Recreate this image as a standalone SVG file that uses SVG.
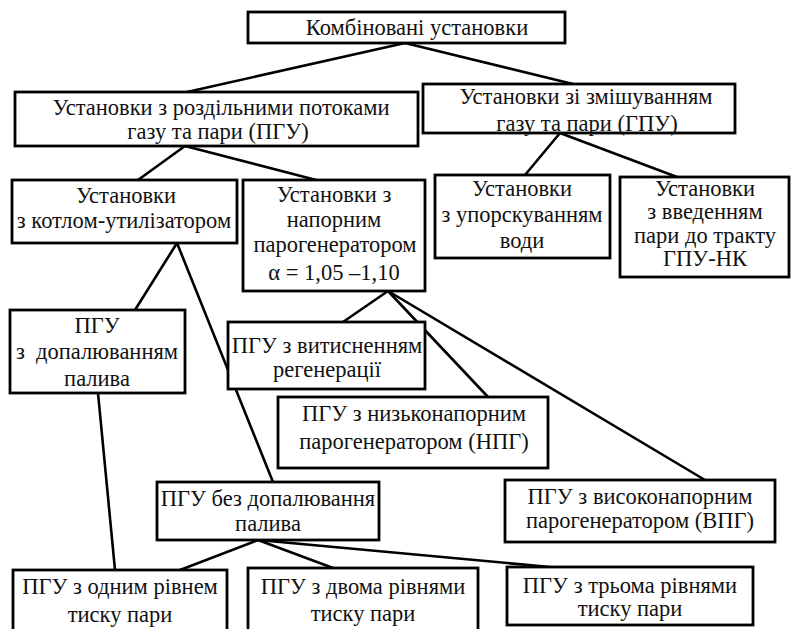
<svg xmlns="http://www.w3.org/2000/svg" width="792" height="629" viewBox="0 0 792 629">
<style>
.box{fill:#fff;stroke:#000;stroke-width:2.8}
.t{font-family:'Liberation Serif','Times New Roman','DejaVu Serif',serif;font-size:22.5px;fill:#111;text-anchor:middle}
.conn line{stroke:#000;stroke-width:2.6;stroke-linecap:round}
</style>
<rect width="792" height="629" fill="#fff"/>
<g id="connectors" class="conn">
<line x1="405" y1="43" x2="187" y2="92"/>
<line x1="405" y1="43" x2="573" y2="84"/>
<line x1="185" y1="146" x2="138" y2="180"/>
<line x1="185" y1="146" x2="320" y2="181"/>
<line x1="560" y1="133" x2="525" y2="175"/>
<line x1="560" y1="133" x2="677" y2="177"/>
<line x1="177" y1="243" x2="135" y2="310"/>
<line x1="177" y1="243" x2="273" y2="482"/>
<line x1="98" y1="393" x2="115" y2="570"/>
<line x1="388" y1="291" x2="343" y2="322"/>
<line x1="388" y1="291" x2="488" y2="397"/>
<line x1="388" y1="291" x2="705" y2="480"/>
<line x1="258" y1="540" x2="180" y2="570"/>
<line x1="258" y1="540" x2="333" y2="568"/>
<line x1="258" y1="540" x2="550" y2="567"/>
</g>
<g font-family="Liberation Serif, serif">
<g id="n-root"><rect class="box" x="248" y="12" width="317" height="31"/><text class="t" x="417" y="35">Комбіновані установки</text></g>
<g id="n-pgu"><rect class="box" x="15" y="92" width="403" height="54"/><text class="t" x="221" y="115">Установки з роздільними потоками</text><text class="t" x="218" y="139">газу та пари (ПГУ)</text></g>
<g id="n-gpu"><rect class="box" x="423" y="84" width="312" height="49"/><text class="t" x="586" y="104">Установки зі змішуванням</text><text class="t" x="587" y="131">газу та пари (ГПУ)</text></g>
<g id="n-kotel"><rect class="box" x="12" y="180" width="225" height="63"/><text class="t" x="126" y="203">Установки</text><text class="t" x="124" y="228">з котлом-утилізатором</text></g>
<g id="n-napor"><rect class="box" x="243" y="180" width="182" height="111"/><text class="t" x="334" y="202">Установки з</text><text class="t" x="334" y="227">напорним</text><text class="t" x="335" y="252">парогенератором</text><text class="t" x="334" y="280">α = 1,05 –1,10</text></g>
<g id="n-upor"><rect class="box" x="435" y="175" width="175" height="83"/><text class="t" x="522" y="196">Установки</text><text class="t" x="522" y="222">з упорскуванням</text><text class="t" x="522" y="248">води</text></g>
<g id="n-vved"><rect class="box" x="620" y="177" width="169" height="100"/><text class="t" x="705" y="196">Установки</text><text class="t" x="705" y="219">з введенням</text><text class="t" x="705" y="243">пари до тракту</text><text class="t" x="705" y="266">ГПУ-НК</text></g>
<g id="n-dopal"><rect class="box" x="10" y="310" width="175" height="83"/><text class="t" x="97" y="333">ПГУ</text><text class="t" x="97" y="359" xml:space="preserve">з  допалюванням</text><text class="t" x="97" y="386">палива</text></g>
<g id="n-vytys"><rect class="box" x="228" y="322" width="197" height="67"/><text class="t" x="327" y="353">ПГУ з витисненням</text><text class="t" x="327" y="377">регенерації</text></g>
<g id="n-npg"><rect class="box" x="278" y="397" width="270" height="71"/><text class="t" x="414" y="421">ПГУ з низьконапорним</text><text class="t" x="414" y="449">парогенератором (НПГ)</text></g>
<g id="n-vpg"><rect class="box" x="505" y="480" width="270" height="62"/><text class="t" x="640" y="504">ПГУ з високонапорним</text><text class="t" x="640" y="528">парогенератором (ВПГ)</text></g>
<g id="n-bez"><rect class="box" x="157" y="482" width="222" height="58"/><text class="t" x="268" y="506">ПГУ без допалювання</text><text class="t" x="268" y="531">палива</text></g>
<g id="n-one"><rect class="box" x="13" y="570" width="214" height="70"/><text class="t" x="120" y="594">ПГУ з одним рівнем</text><text class="t" x="120" y="622">тиску пари</text></g>
<g id="n-two"><rect class="box" x="248" y="568" width="230" height="72"/><text class="t" x="363" y="594">ПГУ з двома рівнями</text><text class="t" x="363" y="621">тиску пари</text></g>
<g id="n-three"><rect class="box" x="507" y="567" width="246" height="58"/><text class="t" x="630" y="593">ПГУ з трьома рівнями</text><text class="t" x="630" y="616">тиску пари</text></g>
</g>
</svg>
